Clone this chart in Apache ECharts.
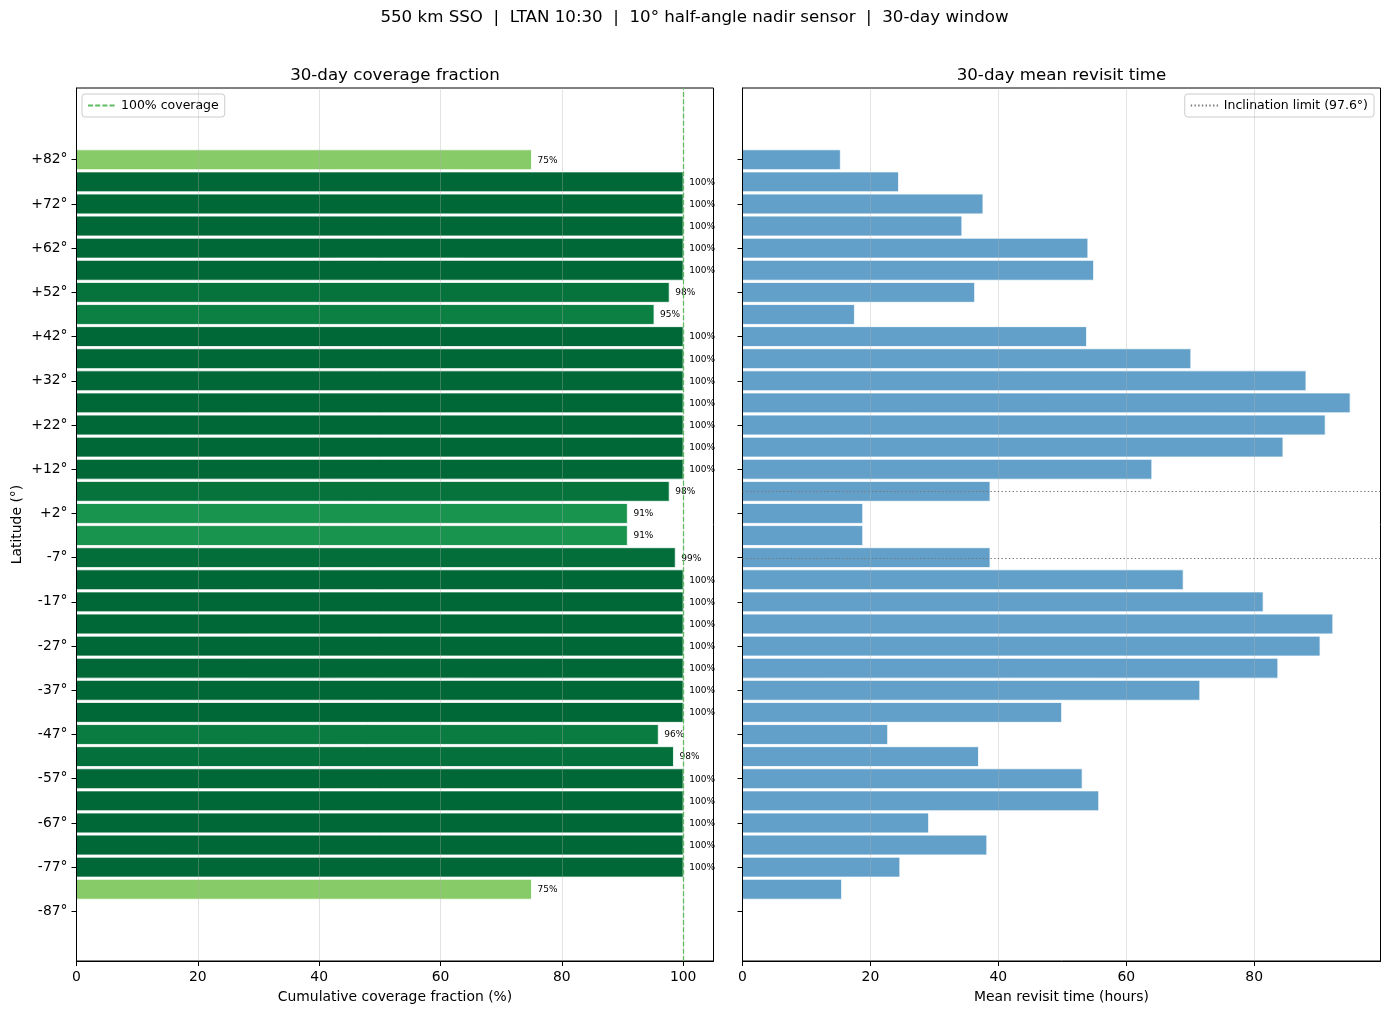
<!DOCTYPE html>
<html>
<head>
<meta charset="utf-8">
<title>Coverage fraction and revisit time by latitude</title>
<script src="https://cdn.jsdelivr.net/npm/echarts@6/dist/echarts.min.js"></script>
<style>
  html, body { margin: 0; padding: 0; background: #fff; }
  #chart { width: 1389px; height: 1014px; }
</style>
</head>
<body>
<div id="chart"></div>
<script>
// 5 deg latitude band centres, north to south
var bandLat = [87.5, 82.5, 77.5, 72.5, 67.5, 62.5, 57.5, 52.5, 47.5, 42.5, 37.5, 32.5, 27.5, 22.5, 17.5, 12.5, 7.5, 2.5,
  -2.5, -7.5, -12.5, -17.5, -22.5, -27.5, -32.5, -37.5, -42.5, -47.5, -52.5, -57.5, -62.5, -67.5, -72.5, -77.5, -82.5, -87.5];

// 30-day cumulative coverage fraction (%), null = band never sampled
var coverage = [null, 75, 100, 100, 100, 100, 100, 97.7, 95.2, 100, 100, 100, 100, 100, 100, 100, 97.7, 90.8,
  90.8, 98.7, 100, 100, 100, 100, 100, 100, 100, 95.9, 98.4, 100, 100, 100, 100, 100, 75, null];

// mean revisit time (hours)
var revisit = [null, 15.3, 24.4, 37.6, 34.3, 54.0, 54.9, 36.3, 17.5, 53.8, 70.1, 88.1, 95.0, 91.1, 84.5, 64.0, 38.7, 18.8,
  18.8, 38.7, 68.9, 81.4, 92.3, 90.3, 83.7, 71.5, 49.9, 22.7, 36.9, 53.1, 55.7, 29.1, 38.2, 24.6, 15.5, null];

// y tick positions and their labels
var tickLat = [82.5, 72.5, 62.5, 52.5, 42.5, 32.5, 22.5, 12.5, 2.5, -7.5, -17.5, -27.5, -37.5, -47.5, -57.5, -67.5, -77.5, -87.5];
var tickLabels = ['+82°', '+72°', '+62°', '+52°', '+42°', '+32°', '+22°', '+12°', '+2°',
  '-7°', '-17°', '-27°', '-37°', '-47°', '-57°', '-67°', '-77°', '-87°'];

var covTicks = [0, 20, 40, 60, 80, 100];
var revTicks = [0, 20, 40, 60, 80];

var FULL_COVERAGE = 100;
var INCLINATION = 97.6;

var FONT = 'DejaVu Sans';
var BAND_H = 4.5;   // bar height in degrees (0.9 of band)
var REF_GREEN = '#62bb62';

// matplotlib RdYlGn
var rdylgn = ['#a50026', '#d73027', '#f46d43', '#fdae61', '#fee08b', '#ffffbf',
  '#d9ef8b', '#a6d96a', '#66bd63', '#1a9850', '#006837'];
function hex2rgb(h) {
  return [parseInt(h.substr(1, 2), 16), parseInt(h.substr(3, 2), 16), parseInt(h.substr(5, 2), 16)];
}
function cmap(t) {
  t = Math.max(0, Math.min(1, t));
  var f = t * (rdylgn.length - 1);
  var i = Math.min(Math.floor(f), rdylgn.length - 2);
  var u = f - i;
  var a = hex2rgb(rdylgn[i]), b = hex2rgb(rdylgn[i + 1]);
  return 'rgb(' + Math.round(a[0] + (b[0] - a[0]) * u) + ',' +
    Math.round(a[1] + (b[1] - a[1]) * u) + ',' + Math.round(a[2] + (b[2] - a[2]) * u) + ')';
}

function pairs(vals) {
  var out = [];
  for (var i = 0; i < bandLat.length; i++) {
    if (vals[i] != null) out.push([bandLat[i], vals[i]]);
  }
  return out;
}

function barRenderer(fillFn, withLabel) {
  return function (params, api) {
    var lat = api.value(0), v = api.value(1);
    var p0 = api.coord([0, lat]);
    var p1 = api.coord([v, lat]);
    var h = api.size([0, BAND_H])[1];
    var kids = [{
      type: 'rect',
      shape: { x: p0[0], y: p0[1] - h / 2, width: p1[0] - p0[0], height: h },
      style: { fill: fillFn(v), stroke: '#fff', lineWidth: 0.8 }
    }];
    if (withLabel) {
      var pt = api.coord([v + 1, lat]);
      kids.push({
        type: 'text',
        style: {
          text: Math.round(v) + '%', x: pt[0], y: pt[1] + 0.5,
          align: 'left', verticalAlign: 'middle',
          fontSize: 9, fontFamily: FONT, fill: '#000'
        }
      });
    }
    return { type: 'group', children: kids };
  };
}

var labelStyle = { fontSize: 13.9, color: '#000', fontFamily: FONT };
var gridLine = { show: true, lineStyle: { color: 'rgba(176,176,176,0.35)', width: 1 } };

function xAxisCfg(idx, max, ticks, name) {
  return {
    type: 'value', gridIndex: idx, min: 0, max: max, interval: 20, z: 10,
    name: name, nameLocation: 'middle', nameGap: 29, nameTextStyle: labelStyle,
    axisLine: { show: true, onZero: false, lineStyle: { color: '#000', width: 1 } },
    axisTick: { show: true, length: 5, customValues: ticks, lineStyle: { color: '#000', width: 1 } },
    axisLabel: { customValues: ticks, margin: 9, fontSize: 13.9, color: '#000', fontFamily: FONT },
    splitLine: gridLine
  };
}

function yAxisCfg(idx, showLabels) {
  var cfg = {
    type: 'value', gridIndex: idx, min: -98.725, max: 98.725, z: 10,
    axisLine: { show: true, onZero: false, lineStyle: { color: '#000', width: 1 } },
    axisTick: { show: true, length: 5, customValues: tickLat, lineStyle: { color: '#000', width: 1 } },
    axisLabel: {
      show: showLabels, customValues: tickLat, margin: 9,
      fontSize: 13.9, color: '#000', fontFamily: FONT,
      formatter: function (val) {
        var k = tickLat.indexOf(val);
        return k >= 0 ? tickLabels[k] : '';
      }
    },
    splitLine: { show: false }
  };
  if (showLabels) {
    cfg.name = 'Latitude (°)';
    cfg.nameLocation = 'middle';
    cfg.nameGap = 52;
    cfg.nameTextStyle = labelStyle;
  }
  return cfg;
}

var chart = echarts.init(document.getElementById('chart'));

var titleStyle = { fontSize: 16.67, fontWeight: 'normal', color: '#000', fontFamily: FONT };
var legendBase = {
  orient: 'horizontal', top: 94, padding: [5, 6, 5, 5],
  itemWidth: 28, itemHeight: 10,
  itemStyle: { opacity: 0 },
  backgroundColor: 'rgba(255,255,255,0.8)', borderColor: '#cccccc', borderWidth: 1, borderRadius: 3,
  textStyle: { fontSize: 12.5, color: '#000', fontFamily: FONT },
  selectedMode: false
};

var option = {
  animation: false,
  backgroundColor: '#fff',
  title: [
    { text: '550 km SSO  |  LTAN 10:30  |  10° half-angle nadir sensor  |  30-day window',
      left: 694.5, top: 9, textAlign: 'center', padding: 0, textStyle: titleStyle },
    { text: '30-day coverage fraction', left: 395, top: 67, textAlign: 'center', padding: 0, textStyle: titleStyle },
    { text: '30-day mean revisit time', left: 1061.5, top: 67, textAlign: 'center', padding: 0, textStyle: titleStyle }
  ],
  legend: [
    Object.assign({ left: 82, data: ['100% coverage'] }, legendBase),
    Object.assign({ right: 15, data: ['Inclination limit (97.6°)'] }, legendBase)
  ],
  grid: [
    { left: 76.5, top: 88, width: 637, height: 873, show: true, borderColor: '#000', borderWidth: 1,
      containLabel: false, outerBoundsMode: 'none' },
    { left: 742.5, top: 88, width: 638, height: 873, show: true, borderColor: '#000', borderWidth: 1,
      containLabel: false, outerBoundsMode: 'none' }
  ],
  xAxis: [
    xAxisCfg(0, 105, covTicks, 'Cumulative coverage fraction (%)'),
    xAxisCfg(1, 99.75, revTicks, 'Mean revisit time (hours)')
  ],
  yAxis: [yAxisCfg(0, true), yAxisCfg(1, false)],
  series: [
    {
      type: 'custom', name: 'coverage', xAxisIndex: 0, yAxisIndex: 0, clip: false,
      encode: { x: 1, y: 0 },
      data: pairs(coverage),
      renderItem: barRenderer(function (v) { return cmap(v / 100); }, true)
    },
    {
      type: 'custom', name: 'revisit', xAxisIndex: 1, yAxisIndex: 1, clip: false,
      encode: { x: 1, y: 0 },
      data: pairs(revisit),
      renderItem: barRenderer(function () { return 'rgba(31,119,180,0.7)'; }, false)
    },
    {
      type: 'line', name: '100% coverage', xAxisIndex: 0, yAxisIndex: 0, data: [], z: 20,
      symbol: 'none', color: REF_GREEN,
      lineStyle: { color: REF_GREEN, type: [5, 2.2], width: 1.3 },
      markLine: {
        silent: true, symbol: 'none', label: { show: false }, z: 20,
        lineStyle: { color: REF_GREEN, type: [5, 2.2], width: 1.3, opacity: 1 },
        emphasis: { disabled: true },
        data: [{ xAxis: FULL_COVERAGE }]
      }
    },
    {
      type: 'line', name: 'Inclination limit (97.6°)', xAxisIndex: 1, yAxisIndex: 1, data: [], z: 20,
      symbol: 'none', color: '#777777',
      lineStyle: { color: '#777777', type: [1.4, 2.3], width: 1 },
      markLine: {
        silent: true, symbol: 'none', label: { show: false }, z: 20,
        lineStyle: { color: '#777777', type: [1.4, 2.3], width: 1 },
        data: [{ yAxis: INCLINATION - 90 }, { yAxis: -(INCLINATION - 90) }]
      }
    }
  ]
};

chart.setOption(option);
</script>
</body>
</html>
